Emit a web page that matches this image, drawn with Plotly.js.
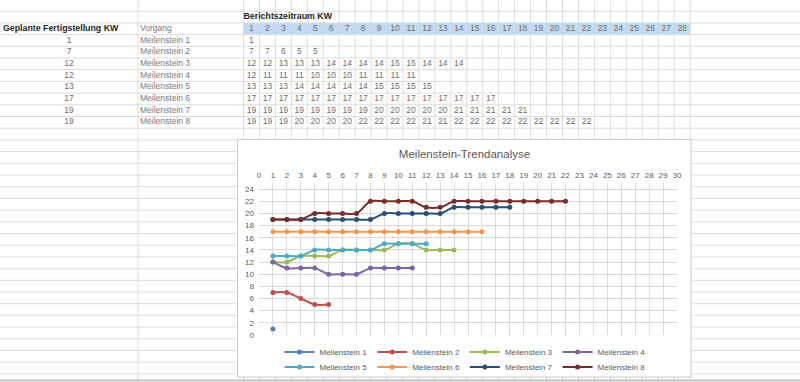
<!DOCTYPE html>
<html><head><meta charset="utf-8">
<script src="https://cdn.plot.ly/plotly-3.0.1.min.js"></script>
<style>html,body{margin:0;padding:0;background:#fff;overflow:hidden}#chart{width:800px;height:382px}</style>
</head><body><div id="chart"></div>
<script>
// ---- data ----
const reportWeeks = [1,2,3,4,5,6,7,8,9,10,11,12,13,14,15,16,17,18,19,20,21,22,23,24,25,26,27,28];
const milestoneNames = ['Meilenstein 1','Meilenstein 2','Meilenstein 3','Meilenstein 4','Meilenstein 5','Meilenstein 6','Meilenstein 7','Meilenstein 8'];
const plannedKW = [1,7,12,12,13,17,19,19];
const m1 = [1];
const m2 = [7,7,6,5,5];
const m3 = [12,12,13,13,13,14,14,14,14,15,15,14,14,14];
const m4 = [12,11,11,11,10,10,10,11,11,11,11];
const m5 = [13,13,13,14,14,14,14,14,15,15,15,15];
const m6 = [17,17,17,17,17,17,17,17,17,17,17,17,17,17,17,17];
const m7 = [19,19,19,19,19,19,19,19,20,20,20,20,20,21,21,21,21,21];
const m8 = [19,19,19,20,20,20,20,22,22,22,22,21,21,22,22,22,22,22,22,22,22,22];
const series = [m1,m2,m3,m4,m5,m6,m7,m8];
const colors = ['#4F81BD','#C0504D','#9BBB59','#8064A2','#4BACC6','#F79646','#2C4D75','#772C2A'];
const xTickLabels = [0,1,2,3,4,5,6,7,8,9,10,11,12,13,14,15,16,17,18,19,20,21,22,23,24,25,26,27,28,29,30];
const yTickLabels = [0,2,4,6,8,10,12,14,16,18,20,22,24];

// ---- sheet geometry (pixels) ----
const W = 800, H = 382;
const colAEnd = 138, numLeft = 243.5, colW = 15.95, nCols = 28;
const rowTop = -0.5, rowH = 11.7;
const rowC = r => rowTop + rowH * r + rowH / 2;
const colC = c => numLeft + colW * (c - 0.5);

const shapes = [];
const gridColor = '#dcdcdc';
for (let k = 0; rowTop + rowH * k <= H; k++) {
  const y = rowTop + rowH * k;
  shapes.push({type:'line', xref:'x', yref:'y', layer:'below', x0:0, x1:W, y0:y, y1:y, line:{color:gridColor, width:1}});
}
const vx = [colAEnd];
for (let k = 0; k <= nCols; k++) vx.push(numLeft + colW * k);
vx.forEach(x => shapes.push({type:'line', xref:'x', yref:'y', layer:'below', x0:x, x1:x, y0:0, y1:H, line:{color:gridColor, width:1}}));
// header band
shapes.push({type:'rect', xref:'x', yref:'y', layer:'below', x0:numLeft, x1:numLeft + colW*nCols, y0:rowTop+rowH*2, y1:rowTop+rowH*3, fillcolor:'#C5DAF0', line:{width:0}});
// bottom sheet edge
shapes.push({type:'line', xref:'x', yref:'y', layer:'below', x0:0, x1:W, y0:380.5, y1:380.5, line:{color:'#c4c4c4', width:2}});
// chart box
shapes.push({type:'rect', xref:'x', yref:'y', layer:'below', x0:237.5, x1:691, y0:139.5, y1:377, fillcolor:'#ffffff', line:{color:'#c8c8c8', width:1}});

// ---- sheet texts ----
const traces = [];
const boldX = [3, numLeft], boldY = [rowC(2), rowC(1)], boldT = ['Geplante Fertigstellung KW','Berichtszeitraum KW'];
traces.push({type:'scatter', mode:'text', xaxis:'x', yaxis:'y', x:boldX, y:boldY, text:boldT, textposition:'middle right',
  textfont:{family:'Liberation Sans, Arial, sans-serif', size:8.8, color:'#262626', weight:'bold'}, showlegend:false, hoverinfo:'skip', cliponaxis:false});

const lx = [140], ly = [rowC(2)], lt = ['Vorgang'];
milestoneNames.forEach((n,i) => { lx.push(140); ly.push(rowC(3+i)); lt.push(n); });
traces.push({type:'scatter', mode:'text', xaxis:'x', yaxis:'y', x:lx, y:ly, text:lt, textposition:'middle right',
  textfont:{family:'Liberation Sans, Arial, sans-serif', size:8.5, color:'#7a7a7a'}, showlegend:false, hoverinfo:'skip', cliponaxis:false});

const cx = [], cy = [], ct = [];
reportWeeks.forEach((w,i) => { cx.push(colC(i+1)); cy.push(rowC(2)); ct.push(String(w)); });
plannedKW.forEach((v,i) => { cx.push(69); cy.push(rowC(3+i)); ct.push(String(v)); });
series.forEach((s,i) => s.forEach((v,j) => { cx.push(colC(j+1)); cy.push(rowC(3+i)); ct.push(String(v)); }));
traces.push({type:'scatter', mode:'text', xaxis:'x', yaxis:'y', x:cx, y:cy, text:ct, textposition:'middle center',
  textfont:{family:'Liberation Sans, Arial, sans-serif', size:8.5, color:'#6e6e6e'}, showlegend:false, hoverinfo:'skip', cliponaxis:false});

// ---- chart traces ----
series.forEach((s,i) => {
  traces.push({type:'scatter', mode:'lines+markers', xaxis:'x2', yaxis:'y2',
    x: reportWeeks.slice(0, s.length), y: s, name: milestoneNames[i],
    legend: i < 4 ? 'legend' : 'legend2',
    line:{color:colors[i], width:2, shape:'spline', smoothing:0.8},
    marker:{color:colors[i], size:5}, cliponaxis:false});
});

const px = v => v / W, py = v => 1 - v / H;
const layout = {
  width: W, height: H, margin:{l:0,r:0,t:0,b:0},
  paper_bgcolor:'#ffffff', plot_bgcolor:'rgba(0,0,0,0)',
  font:{family:'Liberation Sans, Arial, sans-serif', size:8, color:'#595959'},
  xaxis:{domain:[0,1], range:[0,W], visible:false, fixedrange:true},
  yaxis:{domain:[0,1], range:[H,0], visible:false, fixedrange:true},
  xaxis2:{domain:[px(259), px(677)], range:[0,30], anchor:'y2', side:'top',
    tickmode:'array', tickvals:xTickLabels, ticktext:xTickLabels.map(String),
    showgrid:true, gridcolor:'#d9d9d9', gridwidth:1, zeroline:false, showline:false, ticks:'',
    ticklabelstandoff:2, tickfont:{size:8, color:'#595959'}},
  yaxis2:{domain:[py(335), py(183)], range:[0,25], anchor:'x2',
    tickmode:'array', tickvals:yTickLabels, ticktext:yTickLabels.map(String),
    showgrid:true, gridcolor:'#d9d9d9', gridwidth:1, zeroline:false, showline:false, ticks:'',
    ticklabelstandoff:4, tickfont:{size:8, color:'#595959'}},
  title:{text:'Meilenstein-Trendanalyse', x:px(464.5), xanchor:'center', y:py(154), yanchor:'middle',
    font:{family:'Liberation Sans, Arial, sans-serif', size:11.5, color:'#595959'}},
  showlegend:true,
  legend:{orientation:'h', x:px(465), xanchor:'center', y:py(352), yanchor:'middle', bgcolor:'rgba(0,0,0,0)', font:{size:8, color:'#595959'}, itemwidth:30, tracegroupgap:0},
  legend2:{orientation:'h', x:px(465), xanchor:'center', y:py(367), yanchor:'middle', bgcolor:'rgba(0,0,0,0)', font:{size:8, color:'#595959'}, itemwidth:30, tracegroupgap:0},
  shapes: shapes
};
Plotly.newPlot('chart', traces, layout, {displayModeBar:false, staticPlot:true});
</script>
</body></html>
